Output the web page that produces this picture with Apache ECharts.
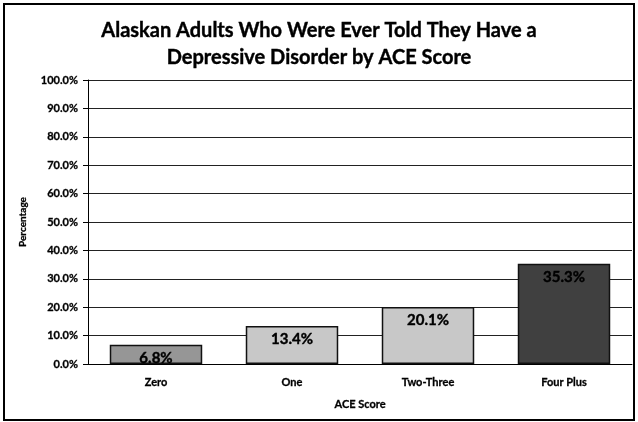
<!DOCTYPE html>
<html><head><meta charset="utf-8">
<script src="https://cdn.jsdelivr.net/npm/echarts@6/dist/echarts.min.js"></script>
<style>html,body{margin:0;padding:0;background:#fff}#c{width:638px;height:422px}</style>
</head><body><div id="c"></div>
<script>
const categories = ['Zero', 'One', 'Two-Three', 'Four Plus'];
const values = [6.8, 13.4, 20.1, 35.3];
const barColors = ['#969696', '#c8c8c8', '#c8c8c8', '#404040'];
const titleText = 'Alaskan Adults Who Were Ever Told They Have a\nDepressive Disorder by ACE Score';
const yAxisName = 'Percentage';
const xAxisName = 'ACE Score';

const font = 'Lato';
const chart = echarts.init(document.getElementById('c'));
chart.setOption({
  animation: false,
  title: {
    text: titleText, left: 'center', top: 12,
    textStyle: { fontFamily: font, fontWeight: 'bold', fontSize: 20, lineHeight: 27, color: '#000',
      textBorderColor: '#000', textBorderWidth: 0.4 }
  },
  graphic: [{ type: 'rect', shape: { x: 4, y: 4, width: 630, height: 416 }, style: { fill: 'none', stroke: '#000', lineWidth: 2 }, silent: true }],
  grid: { left: 88, right: 6, top: 80, bottom: 58 },
  xAxis: {
    type: 'category', data: categories,
    name: xAxisName, nameLocation: 'middle', nameGap: 35,
    nameTextStyle: { fontFamily: font, fontWeight: 'bold', fontSize: 11, color: '#000', textBorderColor: '#000', textBorderWidth: 0.3 },
    axisLine: { lineStyle: { color: '#000', width: 1 } },
    axisTick: { show: false },
    axisLabel: { fontFamily: font, fontWeight: 'bold', fontSize: 11, color: '#000', margin: 13, textBorderColor: '#000', textBorderWidth: 0.3 }
  },
  yAxis: {
    type: 'value', min: 0, max: 100, interval: 10,
    name: yAxisName, nameLocation: 'middle', nameGap: 60, nameRotate: 90,
    nameTextStyle: { fontFamily: font, fontWeight: 'bold', fontSize: 10, color: '#000', textBorderColor: '#000', textBorderWidth: 0.3 },
    axisLine: { show: true, lineStyle: { color: '#000', width: 1 } },
    axisTick: { show: true, length: 5, inside: false, lineStyle: { color: '#000' } },
    axisLabel: { fontFamily: font, fontWeight: 'bold', fontSize: 11, color: '#000', margin: 10, textBorderColor: '#000', textBorderWidth: 0.3,
      formatter: v => v.toFixed(1) + '%' },
    splitLine: { lineStyle: { color: '#222', width: 1 } }
  },
  series: [{
    type: 'bar', barWidth: '68%',
    data: values.map((v, i) => ({ value: v, itemStyle: { color: barColors[i] } })),
    itemStyle: { borderColor: '#111', borderWidth: 1.5 },
    label: { show: true, position: 'insideTop', distance: 6,
      fontFamily: font, fontWeight: 'bold', fontSize: 15, color: '#000', textBorderColor: '#000', textBorderWidth: 0.4,
      formatter: p => p.value.toFixed(1) + '%' }
  }]
});
</script></body></html>
